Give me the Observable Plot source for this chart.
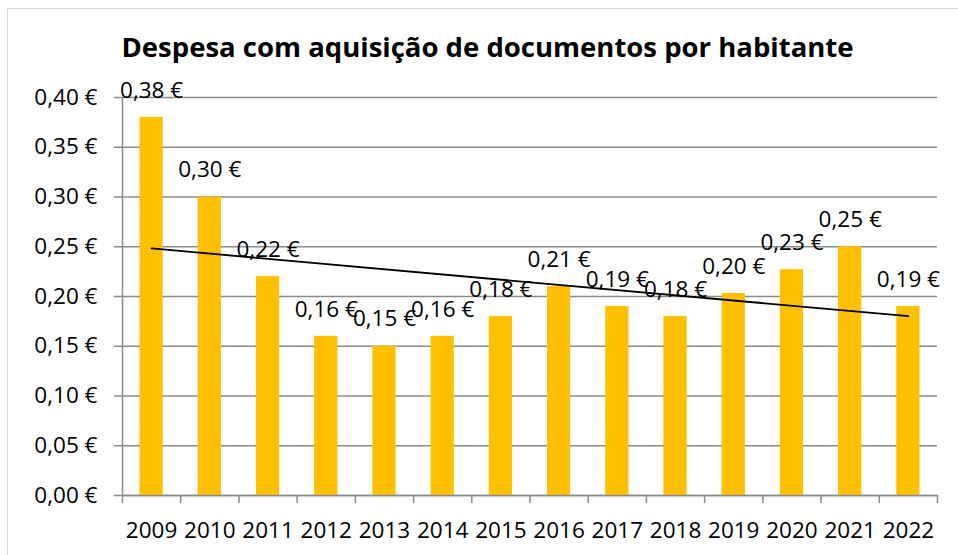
<!DOCTYPE html>
<html>
<head>
<meta charset="utf-8">
<script src="https://cdn.jsdelivr.net/npm/d3@7"></script>
<script src="https://cdn.jsdelivr.net/npm/@observablehq/plot@0.6"></script>
<style>
  html, body { margin: 0; padding: 0; background: #fff; width: 958px; height: 555px; overflow: hidden; }
  #frame { position: absolute; left: 7px; top: 8px; width: 1000px; height: 600px; border: 1.5px solid #d9d9d9; box-sizing: border-box; }
  #title { position: absolute; left: 7px; top: 30px; width: 961px; text-align: center; font-family: "Open Sans", sans-serif; font-weight: bold; font-size: 27.5px; line-height: 34px; color: #000; }
  #chart { position: absolute; left: 0; top: 60px; }
</style>
</head>
<body>
<div id="frame"></div>
<div id="title">Despesa com aquisição de documentos por habitante</div>
<div id="chart"></div>
<script>
const years = [2009, 2010, 2011, 2012, 2013, 2014, 2015, 2016, 2017, 2018, 2019, 2020, 2021, 2022];
const values = [0.38, 0.30, 0.22, 0.16, 0.15, 0.16, 0.18, 0.21, 0.19, 0.18, 0.203, 0.227, 0.25, 0.19];
const yTicks = [0, 0.05, 0.10, 0.15, 0.20, 0.25, 0.30, 0.35, 0.40];

const data = years.map((year, i) => ({year, value: values[i]}));
const boundaries = years.map(y => y - 0.5).concat([years[years.length - 1] + 0.5]);
const fmtEuro = v => d3.format(".2f")(v).replace(".", ",") + " €";
const gray = "#8c8c8c";

const chart = Plot.plot({
  width: 958,
  height: 495,
  marginTop: 37,
  marginLeft: 122,
  marginRight: 21,
  marginBottom: 60,
  x: {domain: [years[0] - 0.5, years[years.length - 1] + 0.5]},
  y: {domain: [0, 0.4]},
  style: {fontFamily: "'Open Sans', sans-serif", fontSize: "22.5px", color: "#000", background: "transparent", overflow: "visible"},
  marks: [
    Plot.gridY(yTicks, {stroke: gray, strokeOpacity: 1, strokeWidth: 1.5}),
    Plot.axisY(yTicks, {tickSize: 8, tickPadding: 17, stroke: gray, strokeWidth: 1.5, fill: "#000", tickFormat: fmtEuro, label: null, fontSize: 22.5}),
    Plot.ruleX([years[0] - 0.5], {y1: 0, y2: 0.4, stroke: gray, strokeWidth: 1.5}),
    Plot.rectY(data, {x1: d => d.year - 0.5, x2: d => d.year + 0.5, y: "value", fill: "#FFC000", insetLeft: 17.5, insetRight: 17.5}),
    Plot.axisX(boundaries, {tickSize: 8, tickFormat: () => "", stroke: gray, strokeWidth: 1.5, label: null}),
    Plot.axisX(years, {tickSize: 0, tickPadding: 27, tickFormat: d => String(d), label: null, fill: "#000", fontSize: 22.5}),
    Plot.ruleY([0], {stroke: gray, strokeWidth: 1.5}),
    Plot.linearRegressionY(data, {x: "year", y: "value", ci: 0, stroke: "#000", strokeWidth: 1.8}),
    Plot.text(data, {x: "year", y: "value", text: d => fmtEuro(d.value), dy: -27, fontSize: 22.5, fill: "#000"})
  ]
});
document.getElementById("chart").appendChild(chart);
</script>
</body>
</html>
